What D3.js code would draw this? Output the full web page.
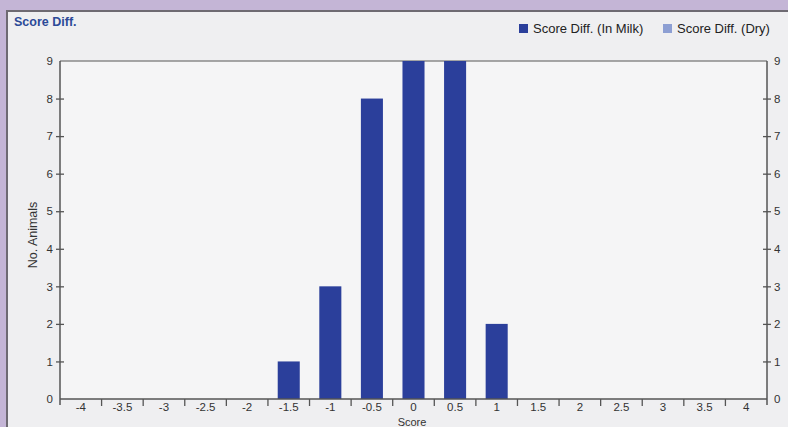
<!DOCTYPE html>
<html><head><meta charset="utf-8">
<script src="https://cdn.jsdelivr.net/npm/d3@7"></script>
<style>
html,body{margin:0;padding:0;background:#c4b5d6;}
svg{display:block;font-family:"Liberation Sans",Arial,sans-serif;}
</style></head>
<body>
<svg id="chart" width="788" height="427"></svg>
<script>
const categories = ["-4","-3.5","-3","-2.5","-2","-1.5","-1","-0.5","0","0.5","1","1.5","2","2.5","3","3.5","4"];
const inMilk = [0,0,0,0,0,1,3,8,9,9,2,0,0,0,0,0,0];
const dry = [0,0,0,0,0,0,0,0,0,0,0,0,0,0,0,0,0];
const yTicks = [0,1,2,3,4,5,6,7,8,9];
const seriesNames = ["Score Diff. (In Milk)","Score Diff. (Dry)"];
const colors = ["#2b3f9b","#8d9fd3"];

const svg = d3.select("#chart");
// panel
svg.append("rect").attr("x",7).attr("y",11).attr("width",790).attr("height",430)
  .attr("fill","#efeff1").attr("stroke","#6e6a72").attr("stroke-width",2);

const m = {left:60, right:767, top:61, bottom:399};
const x = d3.scaleBand().domain(categories).range([m.left,m.right]);
const y = d3.scaleLinear().domain([0,9]).range([m.bottom,m.top]);

svg.append("rect").attr("x",m.left).attr("y",m.top).attr("width",m.right-m.left).attr("height",m.bottom-m.top).attr("fill","#f5f5f6");

// top border line
svg.append("line").attr("x1",m.left).attr("x2",m.right).attr("y1",m.top).attr("y2",m.top)
  .attr("stroke","#8a8a8a").attr("stroke-width",1.5);

// bars
const bw = x.bandwidth()*0.53;
svg.append("g").selectAll("rect").data(categories.map((c,i)=>({c,v:inMilk[i]}))).join("rect")
  .attr("x",d=>x(d.c)+(x.bandwidth()-bw)/2).attr("width",bw)
  .attr("y",d=>y(d.v)).attr("height",d=>y(0)-y(d.v)).attr("fill",colors[0]);
svg.append("g").selectAll("rect").data(categories.map((c,i)=>({c,d:dry[i]})).filter(d=>d.d>0)).join("rect")
  .attr("x",d=>x(d.c)+(x.bandwidth()-bw)/2).attr("width",bw)
  .attr("y",d=>y(d.d)).attr("height",d=>y(0)-y(d.d)).attr("fill",colors[1]);

// left axis
const la = svg.append("g").attr("transform",`translate(${m.left},0)`)
  .call(d3.axisLeft(y).tickValues(yTicks).tickSize(4).tickSizeOuter(0).tickPadding(5));
la.select(".domain").remove();
la.append("line").attr("x1",0).attr("x2",0).attr("y1",m.top).attr("y2",m.bottom+6).attr("stroke","#555").attr("stroke-width",1.5);
la.selectAll(".tick line").attr("x1",4).attr("stroke","#555").attr("stroke-width",1.3);
la.selectAll(".tick").filter(d=>d===9||d===0).select("line").remove();
la.selectAll("text").attr("font-size",11.5).attr("fill","#333").attr("x",-7);

// right axis
const ra = svg.append("g").attr("transform",`translate(${m.right},0)`)
  .call(d3.axisRight(y).tickValues(yTicks).tickSize(4).tickSizeOuter(0).tickPadding(5));
ra.select(".domain").remove();
ra.append("line").attr("x1",0).attr("x2",0).attr("y1",m.top).attr("y2",m.bottom+6).attr("stroke","#555").attr("stroke-width",1.5);
ra.selectAll(".tick line").attr("x1",-4).attr("stroke","#555").attr("stroke-width",1.3);
ra.selectAll(".tick").filter(d=>d===9||d===0).select("line").remove();
ra.selectAll("text").attr("font-size",11.5).attr("fill","#333").attr("x",7);

// x axis
svg.append("line").attr("x1",m.left).attr("x2",m.right).attr("y1",m.bottom).attr("y2",m.bottom).attr("stroke","#555").attr("stroke-width",1.5);
const xa = svg.append("g").attr("transform",`translate(0,${m.bottom})`)
  .call(d3.axisBottom(x).tickSize(0).tickPadding(4));
xa.select(".domain").remove();
xa.selectAll("text").attr("font-size",11.5).attr("fill","#333");
svg.append("g").selectAll("line").data(categories.slice(1)).join("line")
  .attr("x1",d=>x(d)).attr("x2",d=>x(d)).attr("y1",m.bottom).attr("y2",m.bottom+7)
  .attr("stroke","#555").attr("stroke-width",1.3);

// titles
svg.append("text").attr("x",14).attr("y",26).text("Score Diff.")
  .attr("font-size",12.5).attr("font-weight","bold").attr("fill","#2c4a98");
svg.append("text").attr("transform",`translate(37,${(m.top+m.bottom)/2+5}) rotate(-90)`)
  .attr("text-anchor","middle").attr("font-size",12.5).attr("fill","#333").text("No. Animals");
svg.append("text").attr("x",412).attr("y",426).attr("text-anchor","middle")
  .attr("font-size",11).attr("fill","#333").text("Score");

// legend
const lg = [{x:519,t:seriesNames[0],c:colors[0]},{x:663,t:seriesNames[1],c:colors[1]}];
lg.forEach(d=>{
  svg.append("rect").attr("x",d.x).attr("y",24).attr("width",9).attr("height",9).attr("fill",d.c);
  svg.append("text").attr("x",d.x+14).attr("y",33).attr("font-size",13).attr("fill","#222").text(d.t);
});
</script>
</body></html>
